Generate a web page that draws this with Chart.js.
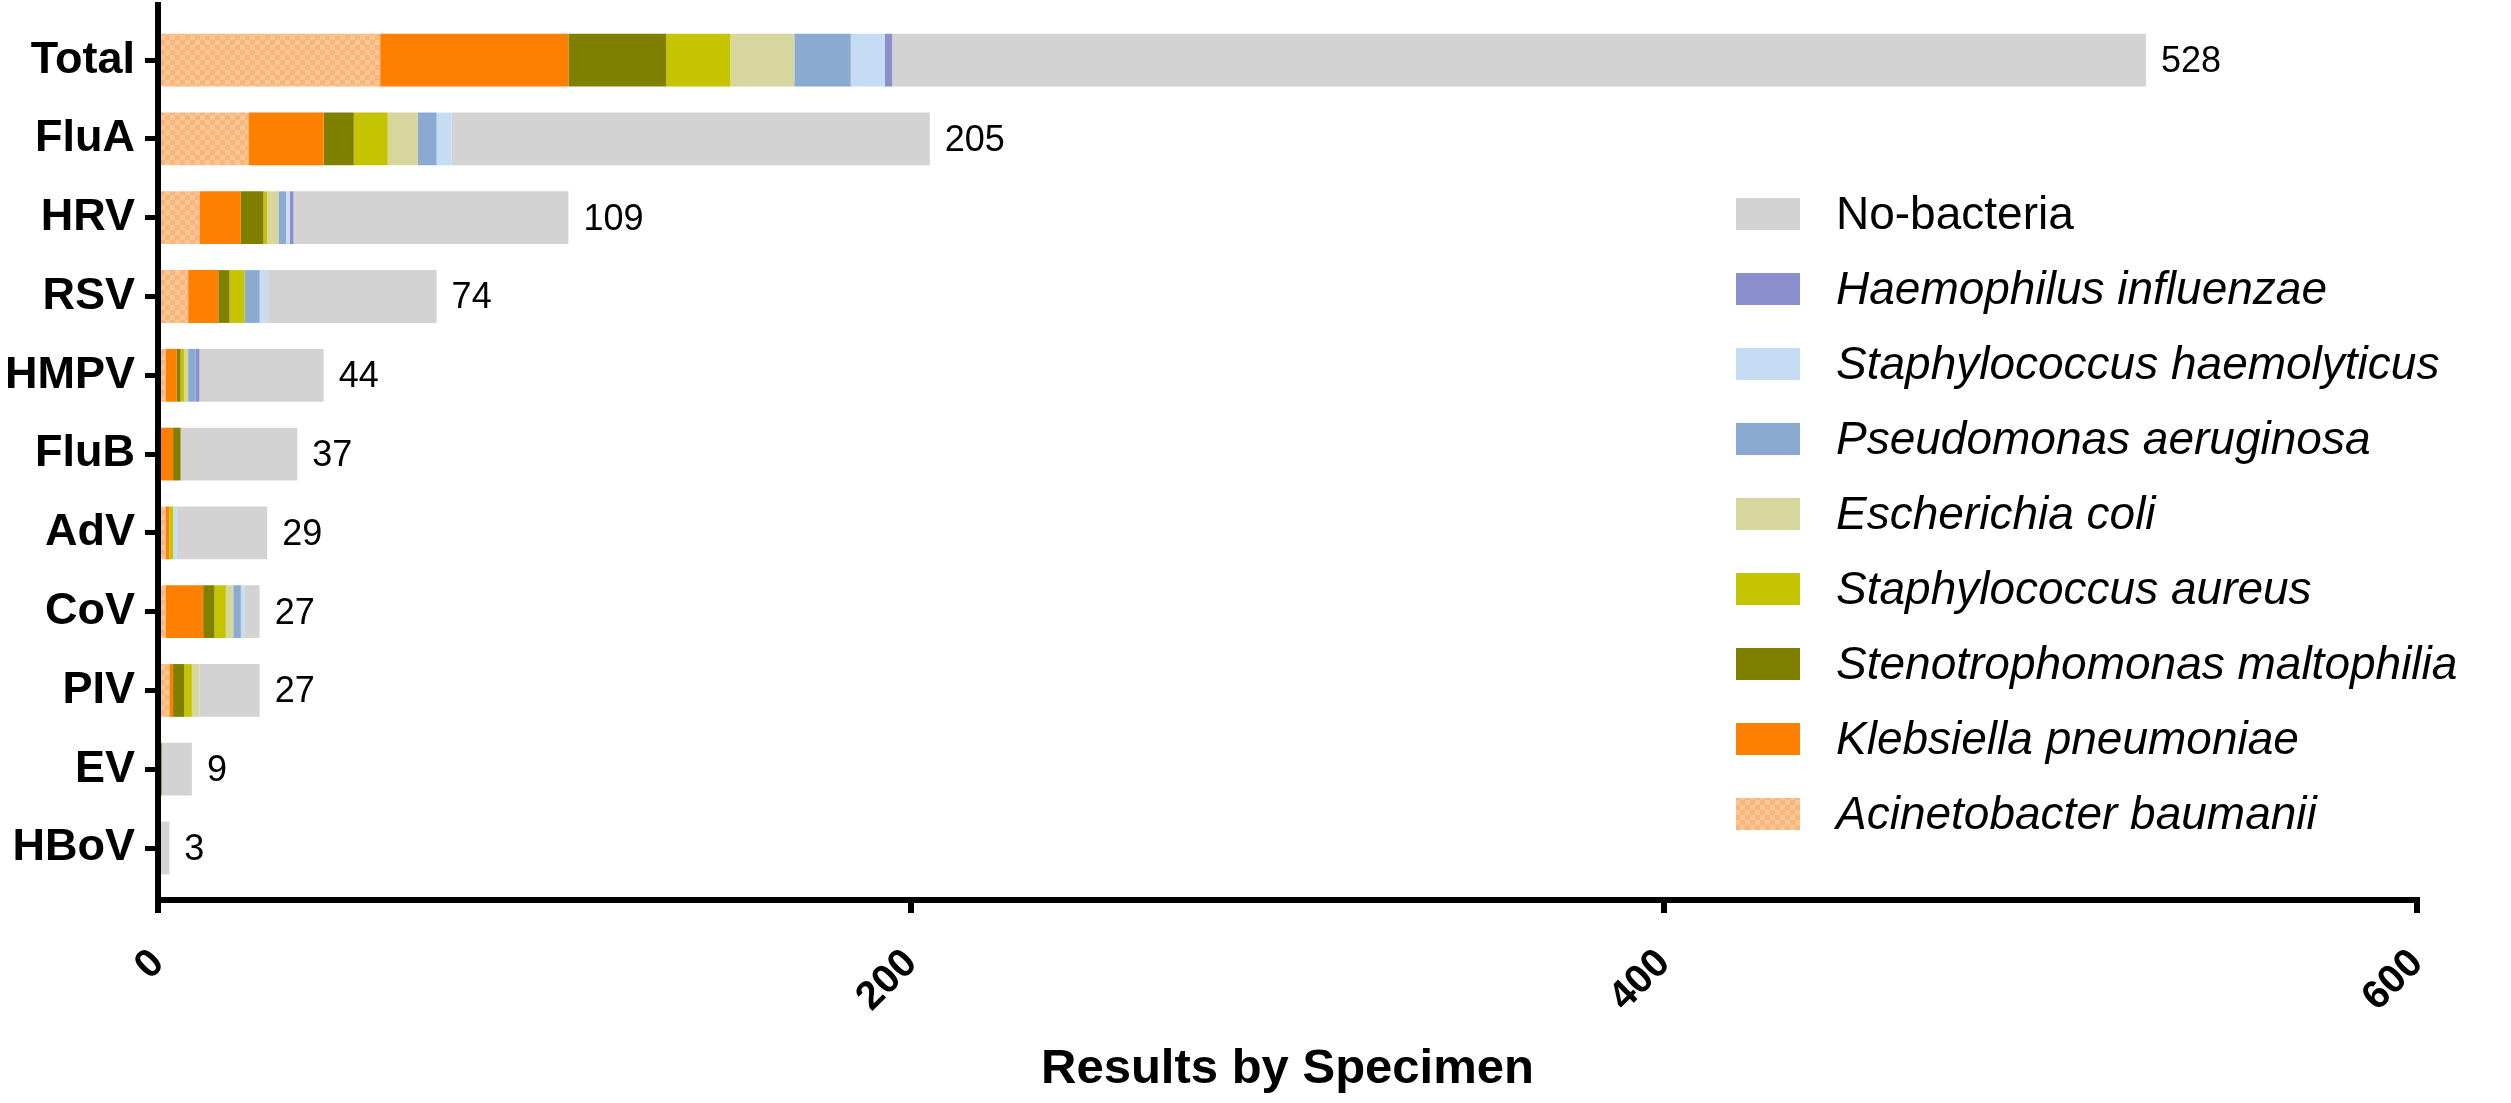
<!DOCTYPE html>
<html>
<head>
<meta charset="utf-8">
<script src="https://cdn.jsdelivr.net/npm/chart.js@4.4.1/dist/chart.umd.min.js"></script>
<style>
  html, body { margin: 0; padding: 0; background: #fff; }
  #wrap { width: 2511px; height: 1103px; }
</style>
</head>
<body>
<div id="wrap"><canvas id="chart" width="2511" height="1103"></canvas></div>
<script>
// --- data (order: Total, FluA, HRV, ...) ---
const categories = ['Total', 'FluA', 'HRV', 'RSV', 'HMPV', 'FluB', 'AdV', 'CoV', 'PIV', 'EV', 'HBoV'];
const acinetobacter  = [59, 24, 11, 8, 2, 0, 2, 2, 3, 0, 0];
const klebsiella     = [50, 20, 11, 8, 3, 4, 1, 10, 1, 0, 0];
const stenotroph     = [26, 8, 6, 3, 1, 2, 0, 3, 3, 1, 0];
const staphAureus    = [17, 9, 1, 4, 1, 0, 1, 3, 2, 0, 0];
const eColi          = [17, 8, 3, 0, 1, 0, 0, 2, 2, 0, 0];
const pseudomonas    = [15, 5, 2, 4, 2, 0, 0, 2, 0, 0, 0];
const staphHaemo     = [9, 4, 1, 2, 0, 0, 1, 1, 0, 0, 0];
const haemophilus    = [2, 0, 1, 0, 1, 0, 0, 0, 0, 0, 0];
const noBacteria     = [333, 127, 73, 45, 33, 31, 24, 4, 16, 8, 3];
const xTicks = [0, 200, 400, 600];

const FONT = '"Liberation Sans", Arial, Helvetica, sans-serif';

// checkered fill used for Acinetobacter
function makeCheck() {
    const c = document.createElement('canvas');
    c.width = 10; c.height = 10;
    const g = c.getContext('2d');
    g.fillStyle = '#FAC792';
    g.fillRect(0, 0, 10, 10);
    g.fillStyle = '#F6B67E';
    g.fillRect(0, 0, 5, 5);
    g.fillRect(5, 5, 5, 5);
    return g.createPattern(c, 'repeat');
}

function toPoints(arr) {
    return arr.map((v, i) => ({ x: v, y: i }));
}

const series = [
    { label: 'Acinetobacter baumanii', values: acinetobacter, color: makeCheck(), italic: true },
    { label: 'Klebsiella pneumoniae', values: klebsiella, color: '#FF8000', italic: true },
    { label: 'Stenotrophomonas maltophilia', values: stenotroph, color: '#808000', italic: true },
    { label: 'Staphylococcus aureus', values: staphAureus, color: '#C4C400', italic: true },
    { label: 'Escherichia coli', values: eColi, color: '#D6D69E', italic: true },
    { label: 'Pseudomonas aeruginosa', values: pseudomonas, color: '#8AAAD2', italic: true },
    { label: 'Staphylococcus haemolyticus', values: staphHaemo, color: '#C6DCF5', italic: true },
    { label: 'Haemophilus influenzae', values: haemophilus, color: '#8B90CC', italic: true },
    { label: 'No-bacteria', values: noBacteria, color: '#D3D3D3', italic: false }
];

// totals printed at bar ends
const valueLabels = {
    id: 'valueLabels',
    afterDatasetsDraw(chart) {
        const ctx = chart.ctx;
        const xs = chart.scales.x, ys = chart.scales.y;
        ctx.save();
        ctx.font = '36px ' + FONT;
        ctx.fillStyle = '#000';
        ctx.textBaseline = 'middle';
        ctx.textAlign = 'left';
        categories.forEach((c, i) => {
            const total = series.reduce((s, d) => s + d.values[i], 0);
            ctx.fillText(String(total), xs.getPixelForValue(total) + 15, ys.getPixelForValue(i) + 2);
        });
        ctx.restore();
    }
};

// legend drawn inside the plot, bottom-most dataset last
const sideLegend = {
    id: 'sideLegend',
    afterDraw(chart) {
        const ctx = chart.ctx;
        const items = chart.data.datasets.slice().reverse();
        ctx.save();
        ctx.textBaseline = 'middle';
        items.forEach((ds, i) => {
            const y = 214 + i * 75;
            ctx.fillStyle = ds.backgroundColor;
            ctx.fillRect(1736, y - 16, 64, 32);
            ctx.fillStyle = '#000';
            ctx.font = (ds.italic ? 'italic ' : '') + '46px ' + FONT;
            ctx.fillText(ds.label, 1836, y + 2);
        });
        ctx.restore();
    }
};

const ctx = document.getElementById('chart').getContext('2d');
new Chart(ctx, {
    type: 'bar',
    data: {
        datasets: series.map(s => ({
            label: s.label,
            italic: s.italic,
            data: toPoints(s.values),
            backgroundColor: s.color,
            borderWidth: 0,
            barPercentage: 1,
            categoryPercentage: 0.67
        }))
    },
    options: {
        indexAxis: 'y',
        responsive: false,
        animation: false,
        devicePixelRatio: 1,
        layout: { padding: { top: 5, right: 94, left: 0, bottom: 0 } },
        plugins: {
            legend: { display: false },
            tooltip: { enabled: false }
        },
        scales: {
            x: {
                type: 'linear',
                stacked: true,
                min: 0,
                max: 600,
                z: 1,
                border: { display: true, color: '#000', width: 6 },
                grid: { drawOnChartArea: false, drawTicks: true, tickLength: 13, lineWidth: 6, color: '#000' },
                afterBuildTicks: s => { s.ticks = xTicks.map(v => ({ value: v })); },
                ticks: {
                    autoSkip: false,
                    minRotation: 45,
                    maxRotation: 45,
                    padding: 27,
                    color: '#000',
                    font: { family: FONT, size: 40, weight: 'bold' }
                },
                title: {
                    display: true,
                    text: 'Results by Specimen',
                    color: '#000',
                    font: { family: FONT, size: 49, weight: 'bold' },
                    padding: { top: 0, bottom: 4 }
                },
                afterFit: s => { s.height = 203; s.paddingLeft = 0; s.paddingRight = 0; }
            },
            y: {
                type: 'linear',
                stacked: true,
                reverse: true,
                offset: false,
                min: -0.7,
                max: 10.66,
                z: 1,
                border: { display: true, color: '#000', width: 6 },
                grid: { offset: false, drawOnChartArea: false, drawTicks: true, tickLength: 13, lineWidth: 5, color: '#000' },
                afterBuildTicks: s => { s.ticks = categories.map((_, i) => ({ value: i })); },
                ticks: {
                    autoSkip: false,
                    padding: 10,
                    color: '#000',
                    font: { family: FONT, size: 45, weight: 'bold' },
                    callback: v => categories[v]
                },
                afterFit: s => { s.width = 158; s.paddingTop = 0; s.paddingBottom = 0; }
            }
        }
    },
    plugins: [valueLabels, sideLegend]
});
</script>
</body>
</html>
